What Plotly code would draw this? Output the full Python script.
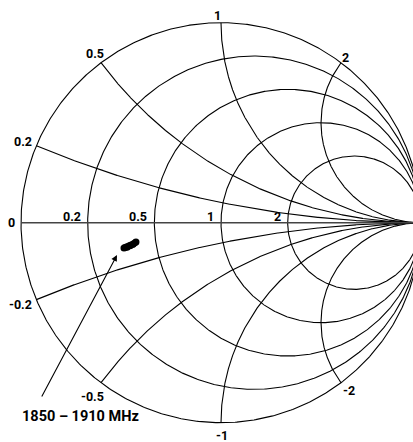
import numpy as np
import plotly.graph_objects as go

# ---------------- data ----------------
freq_mhz = [1850, 1865, 1880, 1895, 1910]
z_real = [0.337, 0.351, 0.366, 0.381, 0.397]      # normalised resistance
z_imag = [-0.114, -0.113, -0.108, -0.103, -0.095]  # normalised reactance

resistance_ticks = [0.2, 0.5, 1, 2]
reactance_ticks = [0.2, 0.5, 1, 2, -0.2, -0.5, -1, -2]
real_tick_labels = ["0.2", "0.5", "1", "2"]
imag_tick_labels = ["0.2", "0.5", "1", "2", "-0.2", "-0.5", "-1", "-2"]
band_label = "1850 – 1910 MHz"

# ---------------- styling ----------------
FONT = "Roboto, 'Liberation Sans', sans-serif"
GRID = dict(color="black", width=1.1)
# label offsets in pixels (xshift, yshift) from the grid intersection
imag_label_shift = [(-13, 4.4), (-5.7, 9.4), (-3.3, 7.7), (4.3, 5.4),
                    (-15.6, -4.6), (-9, -14), (1.3, -12.3), (8, -7.3)]


def gamma(z):
    z = np.asarray(z, dtype=complex)
    return (z - 1) / (z + 1)


fig = go.Figure()

# resistance circles (including r = 0 outer boundary)
theta = np.linspace(0, 2 * np.pi, 721)
for r in [0] + resistance_ticks:
    c = r / (1 + r)
    rho = 1 / (1 + r)
    g = c + rho * np.exp(1j * theta)
    fig.add_trace(go.Scatter(x=g.real, y=g.imag, mode="lines", line=GRID,
                             hoverinfo="skip", showlegend=False))

# reactance arcs
t = np.linspace(0, np.pi / 2 - 1e-5, 800)
rr = np.tan(t)
for xv in reactance_ticks:
    g = gamma(rr + 1j * xv)
    fig.add_trace(go.Scatter(x=g.real, y=g.imag, mode="lines", line=GRID,
                             hoverinfo="skip", showlegend=False))

# real axis (x = 0)
g = gamma(rr)
g = np.concatenate([[-1 + 0j], g])
fig.add_trace(go.Scatter(x=g.real, y=g.imag, mode="lines",
                         line=dict(color="#444444", width=1.6),
                         hoverinfo="skip", showlegend=False))

# measured impedance locus
zl = gamma(np.array(z_real) + 1j * np.array(z_imag))
fig.add_trace(go.Scatter(x=zl.real, y=zl.imag, mode="lines+markers",
                         line=dict(color="black", width=7),
                         marker=dict(color="black", size=7),
                         text=[f"{f} MHz" for f in freq_mhz],
                         showlegend=False))

ann = []
lab_font = dict(family=FONT, size=12.5, color="black", weight="bold")
# "0" at the left end of the real axis
ann.append(dict(x=-1, y=0, text="0", showarrow=False, xanchor="center",
                yanchor="middle", xshift=-9.3, font=lab_font))
for r, lab in zip(resistance_ticks, real_tick_labels):
    gr = float(gamma(r).real)
    ann.append(dict(x=gr, y=0, text=lab, showarrow=False, xanchor="right",
                    yanchor="middle", xshift=-5, yshift=6.7, font=lab_font))
for xv, lab, (dx, dy) in zip(reactance_ticks, imag_tick_labels, imag_label_shift):
    ge = gamma(1j * xv)
    ann.append(dict(x=float(ge.real), y=float(ge.imag), text=lab, showarrow=False,
                    xanchor="center", yanchor="middle", xshift=dx, yshift=dy,
                    font=lab_font))

# arrow pointing at the locus
ann.append(dict(x=float(zl[0].real) - 0.035, y=float(zl[0].imag) - 0.035,
                text="", showarrow=True, arrowhead=2, arrowsize=1.1,
                arrowwidth=1.1, arrowcolor="black", ax=-76, ay=143,
                standoff=0, startstandoff=0))
ann.append(dict(x=-0.705, y=-0.97, text=band_label, showarrow=False,
                xanchor="center", yanchor="middle",
                font=dict(family=FONT, size=14.5, color="black", weight="bold")))

fig.update_layout(
    width=413, height=442, autosize=False,
    margin=dict(l=0, r=0, t=0, b=0),
    paper_bgcolor="white", plot_bgcolor="white",
    xaxis=dict(range=[-1.105, 0.96], visible=False, fixedrange=True),
    yaxis=dict(range=[-1.0965, 1.1135], visible=False, fixedrange=True),
    annotations=ann,
    showlegend=False,
)

fig.write_html(
    "out.html",
    config={"displayModeBar": False},
    post_script="document.body.style.margin='0';document.body.style.overflow='hidden';",
)
